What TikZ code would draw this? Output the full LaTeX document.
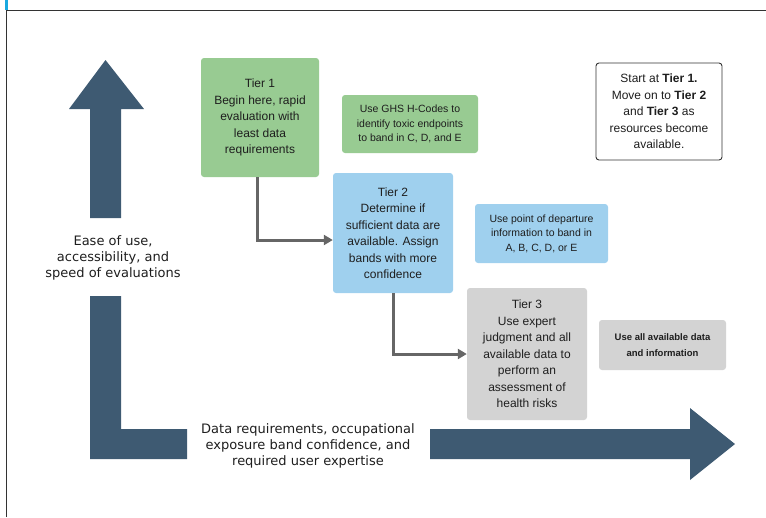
\documentclass[tikz,border=0pt]{standalone}
\usepackage{fontspec}
\setmainfont{Liberation Sans}
\newfontfamily\axisfont{DejaVu Sans}
\usetikzlibrary{arrows.meta}
\definecolor{arrowblue}{HTML}{3E5A72}
\definecolor{boxgreen}{HTML}{98CB92}
\definecolor{boxblue}{HTML}{9FD0EE}
\definecolor{boxgray}{HTML}{D3D3D3}
\definecolor{linegray}{HTML}{666666}
\definecolor{txt}{HTML}{1E1E1E}
\definecolor{framegray}{HTML}{333333}
\definecolor{cyanmark}{HTML}{19A9E0}
\begin{document}
\begin{tikzpicture}[x=1pt,y=-1pt,
  tbox/.style={rounded corners=3pt, align=center, text=txt, inner sep=0pt,
    font=\fontsize{12}{16.5}\selectfont},
  smallbox/.style={tbox, font=\fontsize{10.5}{14.5}\selectfont},
  axislabel/.style={align=center, text=txt, inner sep=0pt,
    font=\axisfont\fontsize{13}{16.3}\selectfont},
  bigarrow/.style={fill=arrowblue, draw=none},
  conn/.style={draw=linegray, line width=3pt, -{Triangle[length=9pt,width=10pt]}}]
\useasboundingbox (0,0) rectangle (766,517);
% frame
\draw[framegray, line width=1pt] (6,517) -- (6,10) -- (766,10);
\fill[cyanmark] (5,0) rectangle (7.5,10);
% big arrows
\fill[bigarrow] (90,218) -- (90,109) -- (69,109) -- (105.5,60) -- (144,109) -- (121,109) -- (121,218) -- cycle;
\fill[bigarrow] (90,296) -- (121,296) -- (121,429) -- (187,429) -- (187,459) -- (90,459) -- cycle;
\fill[bigarrow] (430,429) -- (690,429) -- (690,408) -- (735,444) -- (690,480) -- (690,459) -- (430,459) -- cycle;
% axis labels
\node[axislabel] (ease) at (113,258) {Ease of use,\\accessibility, and\\speed of evaluations};
\node[axislabel] (datareq) at (308,446) {Data requirements, occupational\\exposure band confidence, and\\required user expertise};
% boxes
\node[tbox, fill=boxgreen, minimum width=118pt, minimum height=119pt] (t1) at (260,117.5)
  {Tier 1\\Begin here, rapid\\evaluation with\\least data\\requirements};
\node[smallbox, fill=boxgreen, minimum width=136pt, minimum height=58pt] (ghs) at (410,124)
  {Use GHS H-Codes to\\identify toxic endpoints\\to band in C, D, and E};
\node[tbox, draw=framegray, line width=0.9pt, fill=white, minimum width=126pt, minimum height=97pt] (start) at (659,111.5)
  {Start at \textbf{Tier 1.}\\Move on to \textbf{Tier 2}\\and \textbf{Tier 3} as\\resources become\\available.};
\node[tbox, fill=boxblue, minimum width=120pt, minimum height=120pt] (t2) at (393,233)
  {Tier 2\\Determine if\\sufficient data are\\available. Assign\\bands with more\\confidence};
\node[smallbox, fill=boxblue, minimum width=133pt, minimum height=59pt] (pod) at (541.5,233.5)
  {Use point of departure\\information to band in\\A, B, C, D, or E};
\node[tbox, fill=boxgray, minimum width=120pt, minimum height=132pt] (t3) at (527,354)
  {Tier 3\\Use expert\\judgment and all\\available data to\\perform an\\assessment of\\health risks};
\node[smallbox, fill=boxgray, font=\bfseries\fontsize{9.5}{16}\selectfont, minimum width=127pt, minimum height=50pt] (alldata) at (662.5,345)
  {Use all available data\\and information};
% connectors
\draw[conn] ([xshift=-3pt]t1.south) |- ([yshift=-7pt]t2.west);
\draw[conn] (t2.south) |- (t3.west);
\end{tikzpicture}
\end{document}
